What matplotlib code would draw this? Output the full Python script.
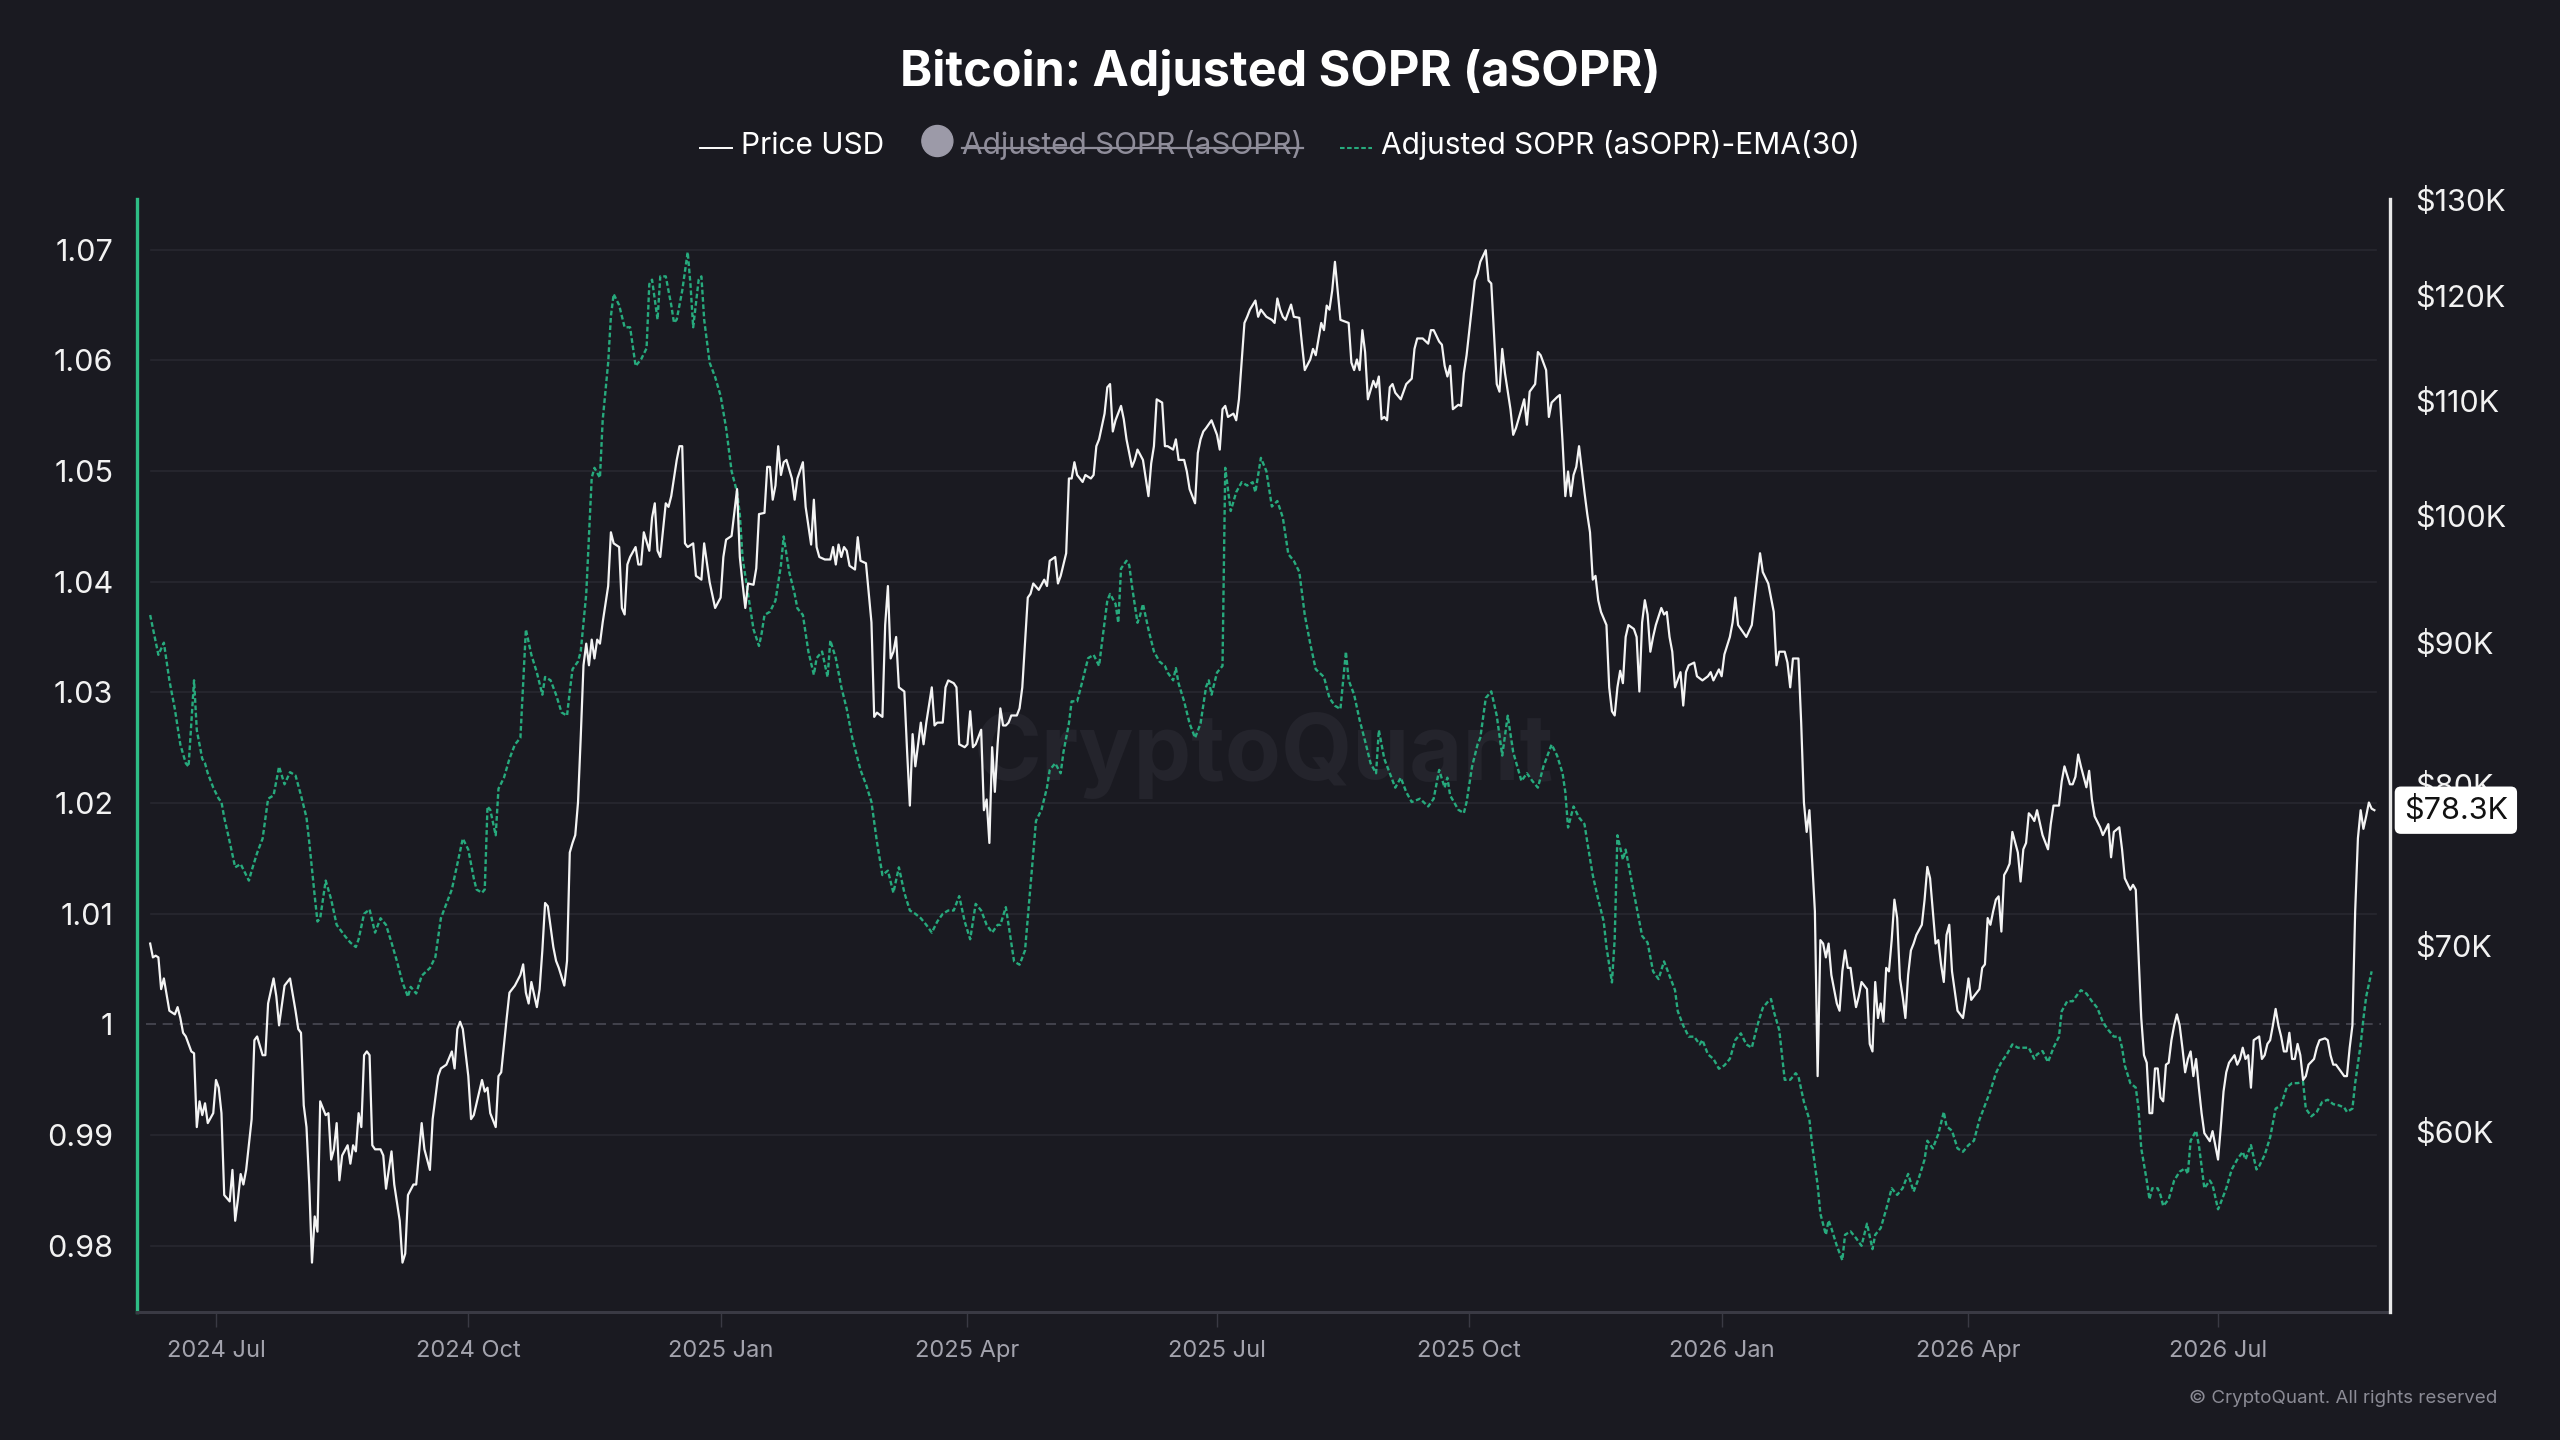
import numpy as np
import pandas as pd
import matplotlib
matplotlib.use("Agg")
import matplotlib.pyplot as plt
import matplotlib.dates as mdates
from matplotlib.ticker import FixedLocator, NullLocator
from matplotlib.lines import Line2D
from matplotlib.patches import Circle
from matplotlib.transforms import IdentityTransform

plt.rcParams['font.family'] = ['Inter', 'DejaVu Sans']

# days counted from 2024-07-01
start = pd.Timestamp('2024-07-01')

price_day = [-24, -23, -22, -21, -20, -19, -18, -17, -15, -14, -13, -12, -11, -9, -8, -7, -6, -5, -4, -3, -1, 0, 1, 2, 3, 5, 6, 7, 8, 9, 10, 11, 13, 14, 15, 17, 18, 19, 21, 22, 23, 25, 26, 27, 29, 30, 31, 32, 33, 34, 35, 36, 37, 38, 40, 41, 42, 43, 44, 45, 46, 48, 49, 50, 51, 52, 53, 54, 55, 56, 57, 58, 60, 61, 62, 64, 65, 67, 68, 69, 70, 72, 73, 75, 76, 78, 79, 81, 82, 84, 86, 87, 88, 89, 90, 92, 93, 94, 96, 97, 98, 99, 100, 102, 103, 104, 106, 107, 108, 109, 111, 112, 113, 114, 115, 117, 118, 119, 120, 121, 123, 124, 125, 127, 128, 129, 130, 131, 132, 133, 134, 135, 136, 137, 138, 139, 140, 141, 143, 144, 145, 147, 148, 149, 150, 151, 153, 154, 155, 156, 158, 159, 160, 161, 162, 164, 165, 166, 168, 169, 170, 171, 172, 174, 175, 177, 178, 180,
             182, 184, 185, 186, 188, 190, 191, 192, 193, 194, 196, 197, 198, 200, 201, 202, 203, 204, 205, 206, 207, 208, 210, 211, 212, 214, 215, 217, 218, 219, 220, 222, 224, 225, 226, 227, 228, 229, 230, 231, 233, 234, 235, 237, 239, 240, 241, 243, 244, 245, 246, 247, 248, 249, 251, 252, 253, 254, 255, 257, 258, 259, 261, 262, 263, 265, 266, 267, 269, 270, 271, 273, 274, 275, 276, 277, 279, 280, 281, 282, 283, 284, 285, 286, 287, 288, 289, 290, 292, 293, 294, 296, 297, 298, 300, 302, 303, 304, 306, 307, 308, 310, 311, 312, 313, 314, 316, 317, 319, 320, 321, 322, 324, 325, 326, 327, 328, 330, 331, 332, 334, 335, 336, 338, 340, 341, 342, 343, 345, 346, 347, 349, 350, 351, 353, 354, 355, 357, 358, 359, 360, 361, 363, 365, 366, 367, 368, 369, 371, 372, 373, 375, 376, 377, 379, 380, 381, 383,
             385, 386, 387, 388, 389, 390, 392, 393, 395, 396, 397, 399, 400, 401, 403, 404, 405, 406, 407, 408, 410, 411, 413, 414, 415, 416, 417, 418, 419, 420, 422, 423, 424, 425, 426, 427, 428, 429, 430, 432, 433, 434, 436, 437, 438, 440, 442, 443, 444, 446, 447, 448, 449, 450, 451, 453, 454, 455, 456, 458, 459, 460, 461, 463, 464, 465, 467, 468, 469, 470, 472, 473, 474, 476, 477, 478, 479, 481, 482, 483, 485, 486, 487, 489, 490, 491, 492, 493, 494, 495, 496, 497, 499, 500, 501, 502, 503, 504, 505, 507, 508, 509, 510, 511, 512, 513, 514, 515, 517, 518, 519, 520, 521, 522, 523, 524, 525, 527, 528, 529, 530, 531, 532, 534, 535, 536, 537, 539, 540, 542, 544, 545, 546, 548, 549, 550, 552, 553, 554, 555, 557, 558, 560, 562, 563, 564, 566, 568, 569, 570, 572, 573, 574, 575, 577, 578, 579, 580, 581, 582, 583, 584, 585, 586, 587, 588,
             589, 591, 592, 593, 594, 595, 596, 597, 598, 599, 600, 601, 602, 603, 604, 605, 606, 607, 608, 609, 610, 611, 612, 613, 614, 615, 616, 617, 618, 619, 620, 622, 623, 624, 625, 626, 627, 628, 629, 630, 631, 632, 633, 635, 636, 637, 638, 639, 640, 641, 643, 644, 645, 646, 647, 648, 649, 650, 651, 652, 653, 654, 655, 657, 658, 659, 660, 661, 662, 663, 664, 666, 668, 669, 670, 672, 673, 674, 676, 677, 678, 679, 680, 681, 682, 683, 684, 685, 687, 688, 690, 691, 692, 694, 695, 696, 698, 699, 700, 701, 702, 703, 704, 705, 706, 707, 708, 709, 710, 711, 712, 713, 714, 715, 716, 717, 718, 719, 720, 721, 722, 723, 724, 725, 727, 728, 730, 731, 732, 733, 734, 736, 737, 738, 739, 740, 741, 742, 743, 745, 746, 747, 748, 749, 750, 751, 752, 753, 754, 755, 756, 757, 758, 759, 760, 761, 762, 763, 765, 766, 767, 769, 770, 771, 772, 773, 774, 775, 776, 777, 778, 779, 780, 781, 782, 783, 784, 785, 786, 787]

price_k = [70.1, 69.3, 69.4, 69.3, 67.5, 68.1, 67.2, 66.3, 66.1, 66.5, 65.9, 65.1, 64.9, 64.1, 64.0, 60.2, 61.5, 60.8, 61.4, 60.4, 60.9, 62.6, 62.2, 60.9, 56.9, 56.6, 58.1, 55.7, 56.7, 57.9, 57.4, 58.1, 60.6, 64.7, 64.9, 63.9, 63.9, 66.7, 68.1, 67.1, 65.5, 67.7, 67.9, 68.1, 66.3, 65.3, 65.1, 61.3, 60.2, 57.4, 53.8, 55.9, 55.2, 61.5, 60.8, 60.9, 58.6, 59.1, 60.4, 57.6, 58.8, 59.3, 58.4, 59.3, 59.0, 60.9, 60.2, 63.9, 64.1, 63.9, 59.3, 59.1, 59.1, 58.8, 57.2, 59.0, 57.4, 55.7, 53.8, 54.2, 56.9, 57.4, 57.4, 60.4, 59.1, 58.1, 60.6, 62.8, 63.2, 63.4, 64.1, 63.2, 65.3, 65.7, 65.3, 62.8, 60.6, 60.8, 62.0, 62.6, 62.0, 62.2, 60.9, 60.2, 62.8, 63.0, 65.9, 67.3, 67.5, 67.7, 68.3, 68.9, 67.3, 66.7, 67.9, 66.5, 67.5, 69.7, 72.5, 72.3, 69.9, 69.1, 68.7, 67.7, 69.1, 75.6, 76.2, 76.7, 78.8, 83.2, 88.3, 89.9, 88.3, 90.2, 88.8, 90.2, 89.9, 91.5, 94.3, 98.6, 97.7, 97.4, 92.6, 92.1, 96.0, 96.6, 97.4, 96.0, 96.0, 98.6, 97.1, 99.8, 101.0, 97.1, 96.6, 101.0, 100.7, 101.6, 104.7, 105.9, 105.9, 97.7, 97.4, 97.7, 95.1, 94.8, 97.7, 94.6,
           92.6, 93.4, 96.6, 98.0, 98.3, 102.2, 96.6, 94.5, 92.6, 94.5, 94.4, 95.7, 100.1, 100.2, 104.1, 104.1, 101.3, 102.5, 105.9, 103.4, 104.5, 104.7, 103.1, 101.3, 103.1, 104.5, 100.7, 97.6, 101.3, 97.4, 96.6, 96.4, 96.4, 97.4, 96.0, 97.6, 96.6, 97.4, 97.1, 95.9, 95.6, 98.2, 96.3, 96.1, 91.5, 84.6, 84.9, 84.6, 91.3, 94.3, 88.8, 89.3, 90.4, 86.7, 86.4, 82.2, 78.6, 83.4, 81.2, 84.2, 82.7, 84.2, 86.7, 84.0, 84.2, 84.2, 86.7, 87.2, 87.0, 86.7, 82.7, 82.5, 82.7, 85.0, 82.5, 82.7, 83.7, 78.3, 79.0, 76.2, 82.5, 79.5, 82.7, 85.2, 84.0, 84.0, 84.2, 84.7, 84.7, 85.2, 86.7, 93.4, 93.7, 94.5, 94.0, 94.8, 94.3, 96.3, 96.6, 94.5, 95.1, 96.9, 103.1, 103.1, 104.5, 103.4, 102.8, 103.4, 103.1, 103.4, 105.9, 106.5, 108.8, 111.2, 111.5, 107.2, 108.2, 109.5, 108.3, 106.5, 104.1, 104.7, 105.6, 104.7, 101.6, 104.4, 105.9, 110.1, 109.8, 105.9, 105.9, 105.6, 106.5, 104.7, 104.7, 103.7, 102.2, 101.0, 105.3, 106.5, 107.2, 107.5, 108.2, 106.9, 105.6, 109.2, 109.5, 108.5, 108.8, 108.2, 110.1, 117.3, 117.9, 118.6, 119.5, 117.9, 118.6, 117.9,
           117.6, 117.3, 119.7, 118.6, 117.9, 117.6, 119.1, 117.9, 117.8, 115.2, 112.8, 113.8, 114.8, 114.2, 117.3, 116.6, 119.0, 118.6, 120.5, 123.4, 117.6, 117.5, 117.3, 113.5, 112.8, 113.8, 112.8, 116.6, 114.5, 110.1, 111.8, 111.2, 112.2, 108.3, 108.5, 108.2, 111.2, 111.5, 110.7, 110.1, 110.8, 111.5, 112.0, 114.8, 115.8, 115.8, 115.3, 116.6, 116.6, 115.5, 115.2, 113.2, 112.2, 113.2, 109.2, 109.6, 109.5, 112.5, 114.2, 119.0, 121.5, 122.2, 123.4, 124.6, 121.5, 121.2, 111.5, 110.8, 114.8, 112.5, 109.2, 106.9, 107.5, 109.2, 110.1, 107.8, 110.8, 111.5, 114.5, 114.2, 112.8, 108.5, 109.8, 110.3, 110.5, 106.2, 101.6, 103.7, 101.6, 103.4, 104.1, 105.9, 101.9, 100.1, 98.6, 94.8, 95.1, 93.2, 92.3, 91.3, 86.7, 85.0, 84.7, 86.7, 87.9, 87.0, 90.4, 91.3, 91.0, 90.4, 86.4, 91.5, 93.2, 92.1, 89.3, 90.4, 91.3, 92.6, 92.1, 92.3, 90.4, 89.3, 86.7, 87.8, 85.4, 87.8, 88.3, 88.5, 87.5, 87.2, 87.5, 87.8, 87.2, 88.0, 87.5, 89.1, 90.4, 91.5, 93.4, 91.3, 90.7, 90.4, 91.3, 95.1, 96.9, 95.4, 94.5, 92.3, 88.3, 89.3, 89.3, 88.5, 86.7, 88.8, 88.8, 84.2, 78.8, 76.9, 78.3, 75.1, 72.0, 62.8, 70.3, 70.1, 69.3, 70.1,
           68.3, 66.7, 66.3, 68.5, 69.7, 68.7, 68.7, 67.5, 66.5, 67.1, 67.9, 67.7, 67.5, 64.5, 64.1, 67.9, 65.9, 66.7, 65.7, 68.7, 68.5, 70.3, 72.7, 71.6, 68.1, 67.1, 65.9, 68.3, 69.7, 70.1, 70.6, 71.2, 72.7, 74.7, 74.0, 72.0, 70.1, 70.3, 68.9, 67.9, 70.6, 71.2, 68.5, 66.3, 66.1, 65.9, 66.9, 68.1, 66.9, 67.1, 67.5, 68.7, 68.9, 71.6, 71.2, 72.0, 72.7, 72.9, 70.8, 74.2, 74.5, 74.9, 76.9, 75.6, 73.8, 75.8, 76.2, 78.1, 77.9, 77.6, 78.3, 76.7, 75.8, 77.4, 78.6, 78.6, 80.2, 81.2, 80.0, 80.0, 80.5, 82.0, 81.2, 80.5, 79.8, 80.9, 79.0, 77.9, 77.2, 76.7, 77.4, 75.3, 76.9, 77.2, 75.8, 74.0, 73.3, 73.6, 73.3, 69.5, 65.9, 63.9, 63.5, 60.9, 60.9, 63.2, 63.2, 61.7, 61.5, 63.4, 63.5, 64.7, 65.5, 66.1, 65.5, 64.3, 63.0, 63.7, 64.1, 62.8, 63.7, 62.2, 60.9, 59.9, 59.5, 60.0, 58.6, 60.2, 62.0, 63.0, 63.5, 63.9, 63.4, 63.7, 64.3, 63.7, 63.9, 62.2, 64.7, 64.9, 63.7, 63.9, 64.5, 64.7, 65.5, 66.4, 65.5, 64.9, 64.1, 64.1, 65.1, 63.7, 63.7, 64.5, 63.9, 62.6, 62.8, 63.4, 63.7, 64.3, 64.7, 64.8, 64.7, 63.9, 63.4, 63.4, 63.2, 63.0, 62.8, 62.8, 64.3, 65.5, 72.0, 76.5, 78.3, 77.1, 77.9, 78.8, 78.4, 78.3]

ema_day = [-24, -21, -19, -17, -15, -13, -11, -10, -8, -7, -5, -4, -3, -1, 1, 2, 3, 5, 7, 9, 12, 13, 15, 17, 19, 21, 23, 25, 27, 29, 31, 33, 34, 36, 37, 38, 40, 42, 44, 47, 49, 51, 52, 54, 56, 58, 60, 62, 64, 66, 68, 70, 71, 73, 75, 78, 80, 82, 84, 86, 88, 90, 92, 94, 95, 97, 98, 99, 100, 102, 103, 105, 107, 109, 111, 113, 115, 117, 119, 120, 122, 124, 126, 128, 129, 130, 132, 133, 135, 137, 138, 140, 141, 143, 144, 145, 147, 149, 151, 153, 155, 157, 158, 159, 161, 162, 164, 166, 167, 168, 170, 172, 173, 174, 176, 177, 178,
           180, 182, 184, 186, 188, 190, 191, 192, 194, 196, 198, 199, 200, 202, 204, 206, 207, 209, 211, 212, 214, 216, 218, 219, 221, 223, 224, 226, 228, 230, 232, 235, 237, 239, 241, 243, 245, 247, 249, 251, 253, 255, 257, 259, 261, 263, 265, 267, 269, 271, 273, 275, 277, 279, 281, 283, 285, 286, 288, 289, 291, 293, 295, 296, 298, 299, 301, 303, 304, 306, 308, 309, 311, 312, 314, 316, 318, 320, 322, 323, 325, 326, 328, 329, 330, 332, 333, 334, 336, 337, 338, 340, 342, 344, 346, 347, 349, 350, 351, 353, 355, 357, 359, 361, 362, 363, 365, 367, 368, 370, 372, 374, 376, 378, 379, 381, 383,
           385, 387, 389, 391, 393, 395, 397, 399, 401, 404, 406, 408, 410, 412, 413, 415, 417, 419, 421, 423, 424, 426, 428, 430, 432, 434, 436, 439, 442, 444, 446, 448, 449, 450, 453, 455, 456, 458, 460, 461, 463, 465, 467, 469, 471, 473, 476, 478, 480, 482, 484, 487, 489, 491, 492, 493, 495, 497, 499, 500, 502, 504, 506, 507, 509, 510, 511, 513, 514, 516, 518, 520, 522, 524, 526, 528, 530, 532, 533, 535, 537, 539, 541, 542, 544, 546, 548, 550, 552, 554, 556, 558, 560, 562, 564, 566, 567, 568, 570, 572, 574, 576, 577, 579, 581, 582, 584, 585, 587, 588,
           589, 591, 593, 594, 596, 598, 600, 602, 604, 605, 607, 609, 611, 613, 615, 617, 619, 621, 623, 624, 626, 628, 630, 631, 633, 635, 637, 639, 641, 643, 645, 647, 649, 651, 653, 655, 657, 659, 661, 663, 664, 666, 668, 670, 672, 673, 675, 677, 679, 680, 682, 684, 686, 688, 690, 692, 694, 695, 696, 698, 700, 701, 702, 704, 705, 706, 708, 709, 710, 712, 714, 716, 718, 719, 720, 722, 723, 724, 725, 727, 728, 730, 731, 733, 735, 737, 739, 740, 742, 744, 745, 747, 749, 750, 751, 753, 755, 757, 759, 761, 762, 764, 766, 768, 770, 772, 774, 776, 777, 779, 780, 782, 783, 784, 786]

ema_val = [1.0370, 1.0334, 1.0345, 1.0311, 1.0285, 1.0253, 1.0236, 1.0233, 1.0311, 1.0266, 1.0240, 1.0236, 1.0227, 1.0214, 1.0204, 1.0201, 1.0187, 1.0165, 1.0142, 1.0145, 1.0130, 1.0139, 1.0155, 1.0168, 1.0204, 1.0207, 1.0233, 1.0217, 1.0228, 1.0225, 1.0207, 1.0187, 1.0165, 1.0116, 1.0093, 1.0096, 1.0130, 1.0113, 1.0090, 1.0080, 1.0074, 1.0070, 1.0077, 1.0100, 1.0104, 1.0083, 1.0096, 1.0090, 1.0074, 1.0057, 1.0038, 1.0025, 1.0034, 1.0028, 1.0044, 1.0051, 1.0061, 1.0096, 1.0109, 1.0122, 1.0145, 1.0168, 1.0158, 1.0132, 1.0122, 1.0119, 1.0122, 1.0197, 1.0194, 1.0171, 1.0213, 1.0223, 1.0240, 1.0253, 1.0259, 1.0357, 1.0334, 1.0318, 1.0298, 1.0314, 1.0311, 1.0298, 1.0282, 1.0279, 1.0301, 1.0321, 1.0328, 1.0337, 1.0389, 1.0494, 1.0503, 1.0494, 1.0546, 1.0598, 1.0640, 1.0660, 1.0650, 1.0630, 1.0630, 1.0595, 1.0601, 1.0611, 1.0669, 1.0673, 1.0637, 1.0676, 1.0676, 1.0650, 1.0634, 1.0637, 1.0663, 1.0698, 1.0669, 1.0630, 1.0673, 1.0676, 1.0637,
           1.0598, 1.0585, 1.0568, 1.0539, 1.0500, 1.0481, 1.0461, 1.0422, 1.0389, 1.0357, 1.0342, 1.0354, 1.0370, 1.0373, 1.0383, 1.0415, 1.0441, 1.0409, 1.0389, 1.0376, 1.0370, 1.0337, 1.0316, 1.0331, 1.0337, 1.0314, 1.0347, 1.0331, 1.0305, 1.0285, 1.0259, 1.0230, 1.0217, 1.0201, 1.0165, 1.0135, 1.0139, 1.0119, 1.0142, 1.0119, 1.0103, 1.0100, 1.0096, 1.0090, 1.0083, 1.0093, 1.0100, 1.0103, 1.0103, 1.0116, 1.0093, 1.0077, 1.0109, 1.0103, 1.0090, 1.0083, 1.0090, 1.0090, 1.0106, 1.0090, 1.0057, 1.0054, 1.0067, 1.0096, 1.0155, 1.0184, 1.0194, 1.0214, 1.0230, 1.0236, 1.0227, 1.0246, 1.0272, 1.0292, 1.0292, 1.0311, 1.0331, 1.0334, 1.0324, 1.0344, 1.0383, 1.0389, 1.0380, 1.0363, 1.0412, 1.0419, 1.0415, 1.0396, 1.0363, 1.0370, 1.0380, 1.0357, 1.0337, 1.0328, 1.0324, 1.0318, 1.0311, 1.0322, 1.0308, 1.0292, 1.0272, 1.0259, 1.0272, 1.0305, 1.0311, 1.0298, 1.0318, 1.0324, 1.0503, 1.0464, 1.0481, 1.0490, 1.0487, 1.0490, 1.0481, 1.0512, 1.0500,
           1.0468, 1.0473, 1.0458, 1.0425, 1.0419, 1.0409, 1.0370, 1.0344, 1.0321, 1.0314, 1.0295, 1.0288, 1.0285, 1.0337, 1.0311, 1.0298, 1.0275, 1.0256, 1.0236, 1.0227, 1.0266, 1.0240, 1.0227, 1.0214, 1.0223, 1.0210, 1.0201, 1.0204, 1.0197, 1.0204, 1.0230, 1.0214, 1.0223, 1.0207, 1.0194, 1.0191, 1.0201, 1.0233, 1.0253, 1.0259, 1.0295, 1.0301, 1.0279, 1.0243, 1.0279, 1.0246, 1.0220, 1.0227, 1.0220, 1.0214, 1.0233, 1.0253, 1.0243, 1.0227, 1.0210, 1.0178, 1.0197, 1.0187, 1.0181, 1.0165, 1.0135, 1.0113, 1.0093, 1.0070, 1.0038, 1.0077, 1.0171, 1.0149, 1.0158, 1.0132, 1.0106, 1.0080, 1.0074, 1.0048, 1.0041, 1.0057, 1.0044, 1.0031, 1.0012, 0.9999, 0.9989, 0.9989, 0.9982, 0.9986, 0.9973, 0.9969, 0.9960, 0.9963, 0.9969, 0.9986, 0.9992, 0.9982, 0.9979, 0.9999, 1.0015, 1.0021, 1.0023, 1.0012, 0.9995, 0.9950, 0.9950, 0.9956, 0.9953, 0.9930, 0.9914, 0.9891, 0.9855, 0.9829, 0.9810, 0.9823,
           0.9816, 0.9800, 0.9787, 0.9810, 0.9813, 0.9807, 0.9800, 0.9820, 0.9797, 0.9810, 0.9816, 0.9833, 0.9852, 0.9846, 0.9852, 0.9865, 0.9849, 0.9862, 0.9878, 0.9895, 0.9888, 0.9901, 0.9921, 0.9908, 0.9904, 0.9888, 0.9885, 0.9891, 0.9895, 0.9914, 0.9927, 0.9940, 0.9956, 0.9966, 0.9973, 0.9982, 0.9979, 0.9979, 0.9979, 0.9969, 0.9973, 0.9976, 0.9966, 0.9979, 0.9989, 1.0012, 1.0021, 1.0021, 1.0028, 1.0031, 1.0028, 1.0021, 1.0015, 1.0002, 0.9995, 0.9989, 0.9989, 0.9979, 0.9963, 0.9947, 0.9943, 0.9924, 0.9888, 0.9859, 0.9842, 0.9852, 0.9852, 0.9846, 0.9836, 0.9842, 0.9859, 0.9867, 0.9870, 0.9865, 0.9895, 0.9904, 0.9891, 0.9872, 0.9852, 0.9859, 0.9855, 0.9833, 0.9839, 0.9852, 0.9869, 0.9878, 0.9885, 0.9878, 0.9891, 0.9869, 0.9872, 0.9882, 0.9898, 0.9911, 0.9924, 0.9927, 0.9943, 0.9947, 0.9947, 0.9948, 0.9924, 0.9917, 0.9921, 0.9930, 0.9932, 0.9928, 0.9927, 0.9925, 0.9921, 0.9924, 0.9947, 0.9982, 1.0005, 1.0025, 1.0048]

sopr_ticks = [0.98, 0.99, 1.00, 1.01, 1.02, 1.03, 1.04, 1.05, 1.06, 1.07]
sopr_labels = ['0.98', '0.99', '1', '1.01', '1.02', '1.03', '1.04', '1.05', '1.06', '1.07']
price_ticks = [60, 70, 80, 90, 100, 110, 120, 130]
price_labels = ['$60K', '$70K', '$80K', '$90K', '$100K', '$110K', '$120K', '$130K']
last_label = '$78.3K'

title = 'Bitcoin: Adjusted SOPR (aSOPR)'
legend_names = ['Price USD', 'Adjusted SOPR (aSOPR)', 'Adjusted SOPR (aSOPR)-EMA(30)']

BG = '#1a1a21'
GREEN = '#27aa7d'
AXGREEN = '#2ebd85'
GRID = '#282830'
TICKGREY = '#a3a3ad'

price_dates = start + pd.to_timedelta(price_day, unit='D')
ema_dates = start + pd.to_timedelta(ema_day, unit='D')

W, H = 2560, 1440
fig = plt.figure(figsize=(W / 100, H / 100), dpi=100, facecolor=BG)
ax = fig.add_axes([137 / W, 1 - 1312 / H, (2390 - 137) / W, (1312 - 199) / H])
ax.set_facecolor(BG)
ax2 = ax.twinx()

# left axis: aSOPR EMA
ax.plot(ema_dates, ema_val, color=GREEN, lw=1.7, linestyle=(0, (2.0, 1.1)), zorder=3)
ax.set_ylim(0.97402, 1.07459)
ax.set_xlim(start - pd.Timedelta(days=28.8), start + pd.Timedelta(days=792.7))
ax.set_yticks(sopr_ticks)
ax.set_yticklabels(sopr_labels)
for t in sopr_ticks:
    if t == 1.0:
        ax.axhline(t, xmin=0.004, xmax=0.996, color='#4a4a54', lw=1.2, ls=(0, (6, 4)), zorder=1)
    else:
        ax.axhline(t, xmin=0.006, xmax=0.994, color=GRID, lw=1.2, zorder=1)

ax.xaxis.set_major_locator(mdates.MonthLocator(bymonth=[1, 4, 7, 10]))
ax.xaxis.set_major_formatter(mdates.DateFormatter('%Y %b'))
ax.tick_params(axis='x', colors='#3a3a44', labelcolor=TICKGREY, labelsize=17,
               length=11, width=1, pad=9)
ax.tick_params(axis='y', length=0, labelcolor='#f2f2f2', labelsize=22, pad=17)

for s in ['top', 'right']:
    ax.spines[s].set_visible(False)
ax.spines['left'].set_color(AXGREEN)
ax.spines['left'].set_linewidth(2.4)
ax.spines['bottom'].set_color('#3a3a44')
ax.spines['bottom'].set_linewidth(2.2)

# right axis: price (log)
ax2.plot(price_dates, price_k, color='#f4f4f4', lw=1.6, zorder=4)
ax2.set_yscale('log')
ax2.set_ylim(51.64, 130.0)
ax2.yaxis.set_major_locator(FixedLocator(price_ticks))
ax2.yaxis.set_minor_locator(NullLocator())
ax2.set_yticklabels(price_labels)
ax2.tick_params(axis='y', which='both', length=0, labelcolor='#f2f2f2', labelsize=22, pad=18)
for s in ['top', 'left', 'bottom']:
    ax2.spines[s].set_visible(False)
ax2.spines['right'].set_color('#e8e8e8')
ax2.spines['right'].set_linewidth(2.4)

# last-price tag (covers the $80K label, as in the original)
ax2.annotate(last_label, xy=(1, price_k[-1]), xycoords=('axes fraction', 'data'),
             xytext=(10, 0), textcoords='offset points', ha='left', va='center',
             fontsize=22, color='#111111', annotation_clip=False, zorder=10,
             bbox=dict(boxstyle='round,pad=0.3,rounding_size=0.2', fc='white', ec='none'))

# watermark
ax.text(0.5, 0.5, 'CryptoQuant', transform=ax.transAxes, ha='center', va='center',
        fontsize=66, fontweight='bold', color='#24242c', zorder=0)

# title
fig.text(0.5, 1 - 73 / H, title, ha='center', va='center', fontsize=35,
         fontweight='bold', color='white')

# legend drawn by hand (the middle entry is shown hidden / struck through)
fig.canvas.draw()
r = fig.canvas.get_renderer()
base_y = H - 154
mid_y = H - 148
ident = IdentityTransform()
texts = []
colors = ['white', '#8f8d9a', 'white']
for name, c in zip(legend_names, colors):
    texts.append(fig.text(0, base_y, name, fontsize=21.5, color=c, va='baseline',
                          ha='left', transform=ident))
widths = [t.get_window_extent(r).width for t in texts]
sym, g1, gap = 32, 9, 37
total = sym + g1 + widths[0] + gap + sym + g1 + widths[1] + gap + sym + g1 + widths[2]
x = W / 2 - total / 2
fig.add_artist(Line2D([x, x + sym], [mid_y, mid_y], color='white', lw=1.4, transform=ident))
x += sym + g1
texts[0].set_x(x)
x += widths[0] + gap
fig.add_artist(Circle((x + sym / 2, H - 141), 15.5, color='#9c9aa8', transform=ident))
x += sym + g1
texts[1].set_x(x)
fig.add_artist(Line2D([x, x + widths[1]], [mid_y, mid_y], color='#8f8d9a', lw=1.6,
                      transform=ident))
x += widths[1] + gap
fig.add_artist(Line2D([x, x + sym], [mid_y, mid_y], color=GREEN, lw=1.5,
                      linestyle=(0, (2.2, 1.2)), transform=ident))
x += sym + g1
texts[2].set_x(x)

fig.text(2497 / W, 1 - 1398 / H, '\u00a9 CryptoQuant. All rights reserved', ha='right',
         va='center', fontsize=13.5, color='#8b8b95')

fig.savefig('out.png', dpi=100, facecolor=BG)
